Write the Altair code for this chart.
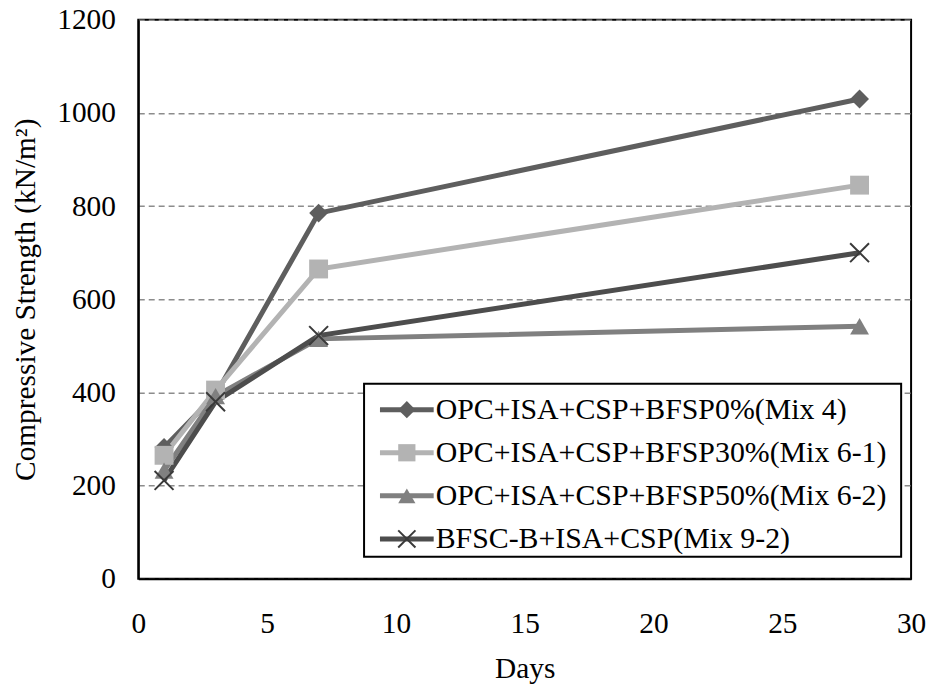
import altair as alt
import pandas as pd

days = [1, 3, 7, 28]
series = [
    "OPC+ISA+CSP+BFSP0%(Mix 4)",
    "OPC+ISA+CSP+BFSP30%(Mix 6-1)",
    "OPC+ISA+CSP+BFSP50%(Mix 6-2)",
    "BFSC-B+ISA+CSP(Mix 9-2)",
]
mix4 = [282, 395, 785, 1030]
mix61 = [265, 405, 665, 845]
mix62 = [232, 392, 515, 542]
mix92 = [211, 380, 522, 700]
line_colors = ["#5e5e5e", "#b3b3b3", "#808080", "#4d4d4d"]
shapes = ["diamond", "square", "triangle-up", "M-1,-1L1,1M-1,1L1,-1"]
cross_color = "#3a3a3a"
x_ticks = [0, 5, 10, 15, 20, 25, 30]
y_ticks = [0, 200, 400, 600, 800, 1000, 1200]

FONT = "Times New Roman, Liberation Serif, DejaVu Serif, serif"
FS = 29.5
LFS = 30

rows = []
for s, vals in zip(series, [mix4, mix61, mix62, mix92]):
    for d, v in zip(days, vals):
        rows.append({"series": s, "day": d, "value": v})
df = pd.DataFrame(rows)

leg = pd.DataFrame({"series": series, "row": list(range(len(series)))})
box = pd.DataFrame({"a": [0]})

color_scale = alt.Scale(domain=series, range=line_colors)
shape_scale = alt.Scale(domain=series, range=shapes)

x_enc = alt.X(
    "day:Q",
    scale=alt.Scale(domain=[0, 30], nice=False),
    axis=alt.Axis(values=x_ticks, title="Days", grid=False, tickSize=0,
                  labelPadding=31, titlePadding=17, format="d", labelFlush=False),
)
y_enc = alt.Y(
    "value:Q",
    scale=alt.Scale(domain=[0, 1200], nice=False),
    axis=alt.Axis(values=y_ticks, title="Compressive Strength (kN/m\u00b2)",
                  grid=True, tickSize=0, labelPadding=23, titlePadding=16,
                  format="d", labelFlush=False),
)

base = alt.Chart(df)
lines = base.mark_line(strokeWidth=5).encode(
    x=x_enc, y=y_enc,
    color=alt.Color("series:N", scale=color_scale, legend=None),
    order="day:Q",
)
pts = base.transform_filter(alt.datum.series != series[3]).mark_point(
    filled=True, size=361, opacity=1
).encode(
    x="day:Q", y="value:Q",
    color=alt.Color("series:N", scale=color_scale, legend=None),
    shape=alt.Shape("series:N", scale=shape_scale, legend=None),
)
crosses = base.transform_filter(alt.datum.series == series[3]).mark_point(
    filled=False, size=361, strokeWidth=2, opacity=1
).encode(
    x="day:Q", y="value:Q",
    color=alt.value(cross_color),
    shape=alt.value(shapes[3]),
)

# legend
legbox = alt.Chart(box).mark_rect(fill="white", stroke="black", strokeWidth=2).encode(
    x=alt.value(227), x2=alt.value(767), y=alt.value(366), y2=alt.value(540)
)
row_y = alt.Y("row:Q", scale=alt.Scale(domain=[0, 3], range=[392, 522]), axis=None)
legc = alt.Chart(leg)
leg_lines = legc.mark_rule(strokeWidth=5).encode(
    x=alt.value(243), x2=alt.value(297), y=row_y,
    color=alt.Color("series:N", scale=color_scale, legend=None),
)
leg_pts = legc.transform_filter(alt.datum.series != series[3]).mark_point(
    filled=True, size=300, opacity=1
).encode(
    x=alt.value(270), y=row_y,
    color=alt.Color("series:N", scale=color_scale, legend=None),
    shape=alt.Shape("series:N", scale=shape_scale, legend=None),
)
leg_cross = legc.transform_filter(alt.datum.series == series[3]).mark_point(
    filled=False, size=300, strokeWidth=2, opacity=1
).encode(
    x=alt.value(270), y=row_y,
    color=alt.value(cross_color),
    shape=alt.value(shapes[3]),
)
leg_text = legc.mark_text(align="left", baseline="middle", font=FONT, fontSize=LFS,
                          color="black").encode(
    x=alt.value(299), y=row_y, text="series:N"
)

main = alt.layer(lines, pts, crosses)
legend = alt.layer(legbox, leg_lines, leg_pts, leg_cross, leg_text)

chart = alt.layer(main, legend).resolve_scale(y="independent").properties(
    width=777, height=562,
    autosize=alt.AutoSizeParams(type="none"),
    padding={"left": 131, "top": 10, "right": 16, "bottom": 106},
).configure_view(
    stroke="black", strokeWidth=2
).configure_axis(
    labelFont=FONT, titleFont=FONT, labelFontSize=FS, titleFontSize=FS,
    labelColor="black", titleColor="black", titleFontWeight="normal",
    domainColor="black", domainWidth=2,
    gridColor="#8c8c8c", gridDash=[6, 4], gridWidth=1.5,
)

chart.save("out.html", embed_options={"renderer": "svg", "actions": False})
